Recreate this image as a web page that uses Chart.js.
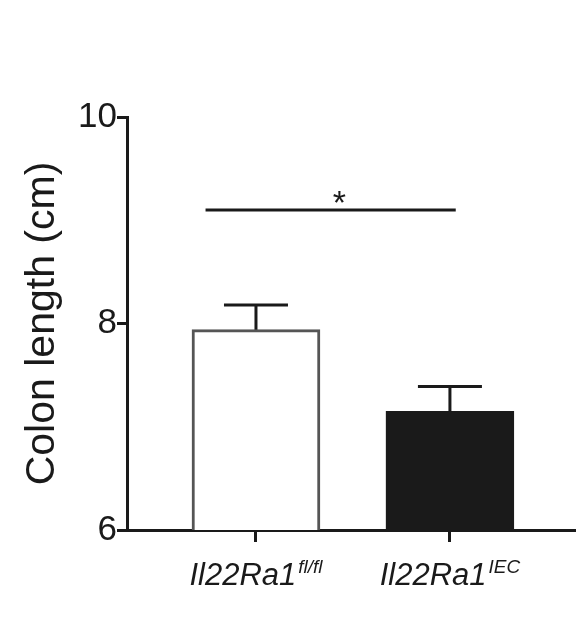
<!DOCTYPE html>
<html>
<head>
<meta charset="utf-8">
<script src="https://cdn.jsdelivr.net/npm/chart.js@4"></script>
<style>
  html, body { margin: 0; padding: 0; background: #fff; }
  #wrap { width: 576px; height: 618px; }
</style>
</head>
<body>
<div id="wrap"><canvas id="c" width="576" height="618"></canvas></div>
<script>
// data
const groups = ['Il22Ra1', 'Il22Ra1'];
const groupSup = ['fl/fl', 'IEC'];
const means = [7.94, 7.15];
const sems = [0.24, 0.24];
const fills = ['#ffffff', '#1a1a1a'];
const borders = ['#555555', '#1a1a1a'];
const yTicks = [6, 8, 10];

const FONT = '"Liberation Sans", Arial, sans-serif';

// error bars (upward only), significance bar and italic labels
const extras = {
  id: 'extras',
  afterDatasetsDraw(chart) {
    const ctx = chart.ctx;
    const x = chart.scales.x, y = chart.scales.y;
    ctx.save();
    ctx.strokeStyle = '#1a1a1a';
    ctx.lineWidth = 3;
    means.forEach((m, i) => {
      const px = x.getPixelForValue(i);
      const top = y.getPixelForValue(m + sems[i]);
      ctx.beginPath();
      ctx.moveTo(px, y.getPixelForValue(m));
      ctx.lineTo(px, top);
      ctx.moveTo(px - 32, top);
      ctx.lineTo(px + 32, top);
      ctx.stroke();
    });
    // significance
    const sy = y.getPixelForValue(9.1);
    ctx.beginPath();
    ctx.moveTo(x.getPixelForValue(-0.26), sy);
    ctx.lineTo(x.getPixelForValue(1.03), sy);
    ctx.stroke();
    ctx.fillStyle = '#1a1a1a';
    ctx.font = '34px ' + FONT;
    ctx.textAlign = 'center';
    ctx.textBaseline = 'alphabetic';
    ctx.fillText('*', x.getPixelForValue(0.43), sy + 4);
    // x labels
    groups.forEach((g, i) => {
      const px = x.getPixelForValue(i);
      ctx.font = 'italic 31px ' + FONT;
      const w1 = ctx.measureText(g).width;
      ctx.font = 'italic 19px ' + FONT;
      const w2 = ctx.measureText(groupSup[i]).width;
      const start = px - (w1 + w2 + 2) / 2;
      ctx.textAlign = 'left';
      ctx.font = 'italic 31px ' + FONT;
      ctx.fillText(g, start, 585);
      ctx.font = 'italic 19px ' + FONT;
      ctx.fillText(groupSup[i], start + w1 + 2, 573);
    });
    ctx.restore();
  }
};

new Chart(document.getElementById('c'), {
  type: 'bar',
  data: {
    datasets: [{
      data: means.map((m, i) => ({ x: i, y: m })),
      backgroundColor: fills,
      borderColor: borders,
      borderWidth: 3,
      barThickness: 128,
      borderSkipped: 'bottom'
    }]
  },
  options: {
    responsive: false,
    animation: false,
    layout: { padding: { top: 117, right: 0, left: 18 } },
    plugins: { legend: { display: false }, tooltip: { enabled: false } },
    scales: {
      x: {
        type: 'linear',
        offset: false,
        min: -0.665,
        max: 1.65,
        afterBuildTicks(s) { s.ticks = [{ value: 0 }, { value: 1 }]; },
        afterFit(s) { s.height = 88; },
        ticks: { display: false },
        grid: { offset: false, drawOnChartArea: false, tickLength: 12, tickWidth: 3, color: '#1a1a1a' },
        border: { color: '#1a1a1a', width: 3 }
      },
      y: {
        min: 6,
        max: 10,
        afterBuildTicks(s) { s.ticks = yTicks.map(v => ({ value: v })); },
        afterFit(s) { s.width = 109; },
        ticks: { color: '#1a1a1a', font: { family: FONT, size: 35 }, padding: 0 },
        grid: { drawOnChartArea: false, tickLength: 10, tickWidth: 3, color: '#1a1a1a' },
        border: { color: '#1a1a1a', width: 3 },
        title: {
          display: true,
          text: 'Colon length (cm)',
          color: '#1a1a1a',
          font: { family: FONT, size: 41 },
          padding: 0
        }
      }
    }
  },
  plugins: [extras]
});
</script>
</body>
</html>
